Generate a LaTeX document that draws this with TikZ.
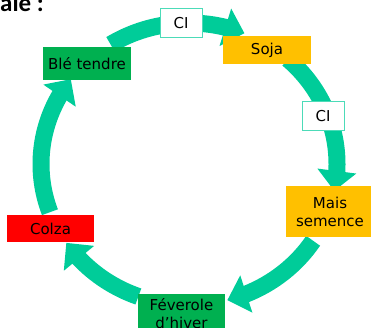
\documentclass[tikz,border=0pt]{standalone}
\usepackage{fontspec}
\setmainfont{DejaVu Sans}
\newfontfamily\titlefont{Carlito}
\usetikzlibrary{arrows.meta,bending}
\definecolor{band}{HTML}{00CC99}
\definecolor{cgreen}{HTML}{00B050}
\definecolor{cyellow}{HTML}{FFC000}
\definecolor{cred}{HTML}{FF0000}
\begin{document}
\begin{tikzpicture}[x=1pt,y=1pt,
  crop/.style={inner sep=0pt, font=\fontsize{15}{18}\selectfont, text=black, align=center, minimum width=88pt},
  cibox/.style={draw=band!70, line width=1pt, fill=white, minimum width=42pt, minimum height=29pt, inner sep=0pt, font=\fontsize{15}{18}\selectfont},
  flow/.style={draw=band, line width=17pt, -{Triangle[width=38pt,length=20pt]}}]
\useasboundingbox (0,0) rectangle (371,328);
\clip (0,0) rectangle (371,328);
\coordinate (C) at (189,164);
\path (C) ++(122:148pt and 141pt) coordinate (s1);
\path (C) ++(48:148pt and 141pt) coordinate (s2);
\path (C) ++(-33:148pt and 141pt) coordinate (s3);
\path (C) ++(-110:148pt and 141pt) coordinate (s4);
\path (C) ++(200:148pt and 141pt) coordinate (s5);
% arrows
\draw[flow] (s1) arc[start angle=122, end angle=68, x radius=148pt, y radius=141pt];
\draw[flow] (s2) arc[start angle=48, end angle=-11, x radius=148pt, y radius=141pt];
\draw[flow] (s3) arc[start angle=-33, end angle=-75, x radius=148pt, y radius=141pt];
\draw[flow] (s4) arc[start angle=-110, end angle=-146, x radius=148pt, y radius=141pt];
\draw[flow] (s5) arc[start angle=200, end angle=143, x radius=148pt, y radius=141pt];
% boxes
\node[crop, fill=cgreen, minimum height=33pt] (ble) at (87,264.5) {Blé tendre};
\node[crop, fill=cyellow, minimum height=28pt] (soja) at (267,278) {Soja};
\node[crop, fill=cyellow, minimum height=51pt] (mais) at (330,116.5) {Mais\\semence};
\node[crop, fill=cred, minimum width=87pt, minimum height=27pt] (colza) at (50.5,99.5) {Colza};
\node[crop, fill=cgreen, minimum width=87pt, minimum height=39pt] (fev) at (181.5,14.7) {Féverole\\d’hiver};
\node[cibox] (ci1) at (181,304.5) {CI};
\node[cibox] (ci2) at (323,212) {CI};
\node[anchor=base west, inner sep=0pt, font=\titlefont\bfseries\fontsize{25}{30}\selectfont] (title) at (0,316) {ale :};
\end{tikzpicture}
\end{document}
